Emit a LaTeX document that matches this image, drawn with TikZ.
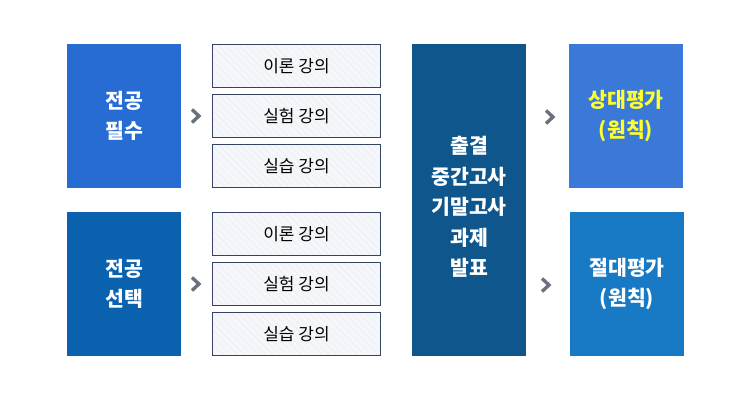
\documentclass[tikz,border=0pt]{standalone}
\usepackage{fontspec}
\setmainfont{Noto Sans CJK KR}
\usetikzlibrary{patterns.meta}

\definecolor{pilsuBlue}{RGB}{38,108,210}
\definecolor{seontaekBlue}{RGB}{10,97,174}
\definecolor{gradeBlue}{RGB}{14,86,140}
\definecolor{relBlue}{RGB}{58,121,216}
\definecolor{absBlue}{RGB}{24,122,196}
\definecolor{lecEdge}{RGB}{52,68,98}
\definecolor{lecFill}{RGB}{245,247,250}
\definecolor{hatch}{RGB}{234,237,242}
\definecolor{chevGray}{RGB}{108,113,126}
\definecolor{relYellow}{RGB}{255,255,45}

\begin{document}
\begin{tikzpicture}[x=1pt, y=-1pt,
        bigbox/.style={minimum width=114pt, minimum height=144pt, inner sep=0pt,
            text=white, align=center, font=\fontsize{20.5}{30}\selectfont\bfseries},
        lecture/.style={fill=lecFill,
            postaction={pattern={Lines[angle=-45, distance=5pt, line width=0.5pt]}, pattern color=hatch},
            postaction={draw=lecEdge, line width=1pt},
            minimum width=168pt, minimum height=43pt, inner sep=0pt,
            font=\fontsize{17}{19}\selectfont},
        chevron/.style={draw=chevGray, line width=3.4pt, miter limit=10}
    ]
    \useasboundingbox (0,0) rectangle (750,400);

    % Major courses
    \node[bigbox, fill=pilsuBlue] (pilsu) at (124,116) {전공\\필수};
    \node[bigbox, fill=seontaekBlue] (seontaek) at (124,284) {전공\\선택};

    % Lectures
    \node[lecture] (theoryA) at (296.5,66) {이론 강의};
    \node[lecture] (labA) at (296.5,116) {실험 강의};
    \node[lecture] (practiceA) at (296.5,166) {실습 강의};
    \node[lecture] (theoryB) at (296.5,234) {이론 강의};
    \node[lecture] (labB) at (296.5,284) {실험 강의};
    \node[lecture] (practiceB) at (296.5,334) {실습 강의};

    % Grading items
    \node[bigbox, fill=gradeBlue, minimum height=312pt] (items) at (469,200) {};
    \node[bigbox, minimum height=0pt, font=\fontsize{20.5}{30.5}\selectfont\bfseries]
        (itemsText) at ([yshift=-7pt]items.center)
        {출결\\중간고사\\기말고사\\과제\\발표};

    % Evaluation
    \node[bigbox, fill=relBlue, text=relYellow] (relative) at (626,116) {상대평가\\(원칙)};
    \node[bigbox, fill=absBlue] (absolute) at (627,284) {절대평가\\(원칙)};

    % Chevrons
    \coordinate (chevA) at (196,116);
    \coordinate (chevB) at (196,284);
    \coordinate (chevC) at (550,117);
    \coordinate (chevD) at (546,285);
    \foreach \c in {chevA, chevB, chevC, chevD}
        \draw[chevron] ([shift={(-4,-6.5)}]\c) -- ([shift={(3,0)}]\c) -- ([shift={(-4,6.5)}]\c);
\end{tikzpicture}
\end{document}
